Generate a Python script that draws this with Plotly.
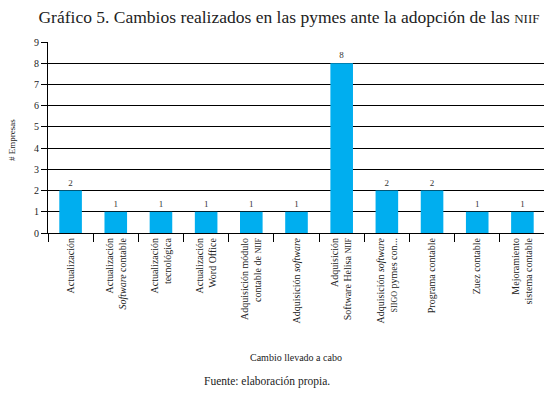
import plotly.graph_objects as go

categories = [
    "Actualización",
    "Actualización<br><i>Software</i> contable",
    "Actualización<br>tecnológica",
    "Actualización<br>Word Office",
    "Adquisición módulo<br>contable de <span style='font-size:8px'>NIIF</span>",
    "Adquisición <i>software</i>",
    "Adquisición<br>Software Helisa <span style='font-size:8px'>NIIF</span>",
    "Adquisición <i>software</i><br><span style='font-size:8px'>SIIGO</span> pymes con...",
    "Programa contable",
    "Zuez contable",
    "Mejoramiento<br>sistema contable",
]
values = [2, 1, 1, 1, 1, 1, 8, 2, 2, 1, 1]

title_text = "Gráfico 5. Cambios realizados en las pymes ante la adopción de las <span style='font-size:13px'>NIIF</span>"
y_title = "# Empresas"
x_title = "Cambio llevado a cabo"
source_text = "Fuente: elaboración propia."

FONT = "Liberation Serif, Times New Roman, serif"
OFF = 8  # page body margin
W, H = 552 - OFF, 397 - OFF
ML, MR, MT, MB = 48 - OFF, 7, 42 - OFF, 164
# plot area in page pixels: x 48..545, y 42..233
PW = W - ML - MR
PH = H - MT - MB

def px_x(x):
    return (x - OFF - ML) / PW

def px_y(y):
    return (MT + PH - (y - OFF)) / PH

fig = go.Figure(
    go.Bar(
        x=categories,
        y=values,
        width=0.5,
        marker=dict(color="#00AEEF", line=dict(width=0)),
        text=values,
        textposition="outside",
        textfont=dict(family=FONT, size=9, color="#333"),
        cliponaxis=False,
    )
)

fig.update_layout(
    width=W,
    height=H,
    margin=dict(l=ML, r=MR, t=MT, b=MB, autoexpand=False),
    paper_bgcolor="white",
    plot_bgcolor="white",
    showlegend=False,
    font=dict(family=FONT, color="#222"),
    title=dict(
        text=title_text,
        font=dict(family=FONT, size=17.5, color="#222"),
        x=(289 - OFF) / W,
        xanchor="center",
        y=1 - (17 - OFF) / H,
        yanchor="middle",
    ),
    xaxis=dict(
        type="category",
        range=[-0.5, 10.5],
        showgrid=False,
        showline=True,
        linecolor="black",
        linewidth=1,
        ticks="outside",
        tickson="boundaries",
        ticklen=8,
        tickcolor="black",
        tickangle=-90,
        tickfont=dict(family=FONT, size=10, color="#222"),
    ),
    yaxis=dict(
        range=[0, 9],
        dtick=1,
        showgrid=True,
        gridcolor="black",
        gridwidth=1.2,
        showline=True,
        linecolor="black",
        linewidth=1.2,
        ticks="outside",
        ticklen=6,
        tickcolor="black",
        tickfont=dict(family=FONT, size=10, color="#222"),
        zeroline=False,
    ),
    annotations=[
        dict(text=y_title, xref="paper", yref="paper", x=px_x(12), y=px_y(140),
             xanchor="center", yanchor="middle",
             showarrow=False, textangle=-90, font=dict(family=FONT, size=9, color="#222")),
        dict(text=x_title, xref="paper", yref="paper", x=px_x(296), y=px_y(357),
             xanchor="center", yanchor="middle",
             showarrow=False, font=dict(family=FONT, size=10, color="#222")),
        dict(text=source_text, xref="paper", yref="paper", x=px_x(267), y=px_y(381),
             xanchor="center", yanchor="middle",
             showarrow=False, font=dict(family=FONT, size=11.5, color="#222")),
    ],
)

fig.write_html("out.html")
